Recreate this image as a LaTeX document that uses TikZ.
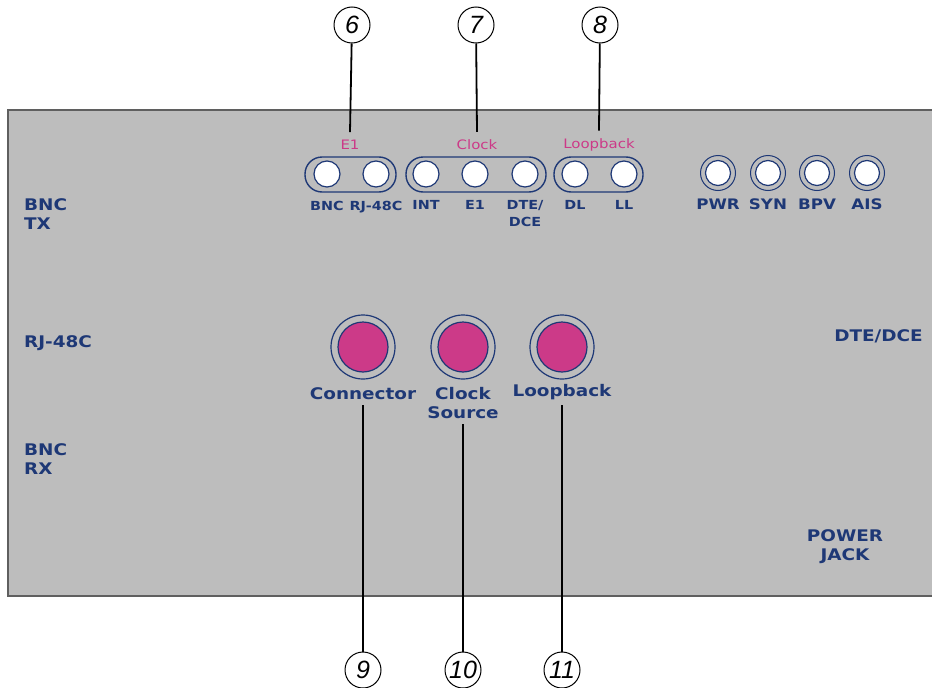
\documentclass[tikz,border=0pt]{standalone}
\usepackage{fontspec}
\setmainfont{DejaVu Sans}[FakeStretch=1.15]
\setsansfont{Liberation Sans}
\usepackage{xcolor}
\usepackage{tikz}
\usetikzlibrary{positioning}

\definecolor{panelgray}{RGB}{189,189,189}
\definecolor{edgegray}{RGB}{95,95,95}
\definecolor{navy}{RGB}{30,56,118}
\definecolor{ledpink}{RGB}{204,58,136}

\begin{document}
\begin{tikzpicture}[
      x=1pt, y=-1pt,
      callout/.style={circle, draw, line width=1pt, minimum size=36pt, inner sep=0pt,
        font=\sffamily\itshape\fontsize{25}{25}\selectfont},
      grplbl/.style={inner sep=0pt, text=ledpink, font=\fontsize{13}{15}\selectfont},
      smalllbl/.style={inner sep=0pt, text=navy, align=center, font=\bfseries\fontsize{12.5}{17}\selectfont},
      biglbl/.style={inner sep=0pt, text=navy, align=center, font=\bfseries\fontsize{16}{19}\selectfont},
      grp/.style={draw=navy, line width=1.4pt, rounded corners=17pt},
      led/.style={circle, draw=navy, fill=white, line width=1.2pt, minimum size=26pt, inner sep=0pt},
      ledring/.style={circle, draw=navy, line width=1pt, minimum size=35pt, inner sep=0pt,
        path picture={\draw[navy, fill=white, line width=1.2pt] (path picture bounding box.center) circle (12.5pt);}},
      pushbtn/.style={circle, draw=navy, line width=1.2pt, minimum size=64pt, inner sep=0pt,
        path picture={\draw[navy, fill=ledpink, line width=1.2pt] (path picture bounding box.center) circle (25pt);}},
      lead/.style={line width=1.8pt}
    ]
      \useasboundingbox (0,0) rectangle (932,688);

      % front panel
      \fill[panelgray] (8,110) rectangle (932,596);
      \draw[edgegray, line width=2pt] (932,110) -- (8,110) -- (8,596) -- (932,596);

      % switch groups
      \draw[grp] (305,157) rectangle (396,192);
      \draw[grp] (406,157) rectangle (546,192);
      \draw[grp] (554,157) rectangle (643,192);

      \node[grplbl] (e1lbl) at (350,145) {E1};
      \node[grplbl] (clklbl) at (477,145) {Clock};
      \node[grplbl] (lblbl) at (599,145) {Loopback};

      \node[led] (bnc) at (327,174) {};
      \node[led] (rj) at (376,174) {};
      \node[led] (int) at (426,174) {};
      \node[led] (ext) at (475,174) {};
      \node[led] (dte) at (525,174) {};
      \node[led] (dl) at (575,174) {};
      \node[led] (ll) at (624,174) {};

      \node[smalllbl, below=13pt of bnc] {BNC};
      \node[smalllbl, below=13pt of rj] {RJ-48C};
      \node[smalllbl, below=13pt of int] {INT};
      \node[smalllbl, below=13pt of ext] {E1};
      \node[smalllbl, below=13pt of dte] {DTE/\\DCE};
      \node[smalllbl, below=13pt of dl] {DL};
      \node[smalllbl, below=13pt of ll] {LL};

      % status leds
      \node[ledring] (pwr) at (718,173) {};
      \node[ledring] (syn) at (768,173) {};
      \node[ledring] (bpv) at (817,173) {};
      \node[ledring] (ais) at (867,173) {};
      \foreach \n/\t in {pwr/PWR, syn/SYN, bpv/BPV, ais/AIS}
        \node[smalllbl, font=\bfseries\fontsize{14.5}{17}\selectfont, below=8pt of \n] {\t};

      % push buttons
      \node[pushbtn] (btnconn) at (363,347) {};
      \node[pushbtn] (btnclk) at (463,347) {};
      \node[pushbtn] (btnloop) at (562,347) {};
      \node[biglbl, below=8pt of btnconn] (conn) {Connector};
      \node[biglbl, below=8pt of btnclk] (clksrc) {Clock\\Source};
      \node[biglbl, below=5pt of btnloop] (loop) {Loopback};

      % rear labels
      \node[biglbl, align=left, anchor=north west] (bnctx) at (24,198) {BNC\\TX};
      \node[biglbl, anchor=west] (rj48) at (24,343) {RJ-48C};
      \node[biglbl, align=left, anchor=north west] (bncrx) at (24,443) {BNC\\RX};
      \node[biglbl, anchor=east] (dtedce) at (923,336) {DTE/DCE};
      \node[biglbl] (power) at (845,547) {POWER\\JACK};

      % callouts
      \node[callout] (c6) at (352,25) {6};
      \node[callout] (c7) at (476,25) {7};
      \node[callout] (c8) at (600,25) {8};
      \node[callout] (c9) at (363,670) {9};
      \node[callout] (c10) at (463,670) {10};
      \node[callout] (c11) at (562,670) {11};

      \draw[lead] (c6) -- ([yshift=8pt]e1lbl.north);
      \draw[lead] (c7) -- ([yshift=8pt]clklbl.north);
      \draw[lead] (c8) -- ([yshift=8pt]lblbl.north);
      \draw[lead] ([yshift=-5pt]conn.south) -- (c9);
      \draw[lead] ([yshift=-5pt]clksrc.south) -- (c10);
      \draw[lead] ([yshift=-5pt]loop.south) -- (c11);
    \end{tikzpicture}
\end{document}
